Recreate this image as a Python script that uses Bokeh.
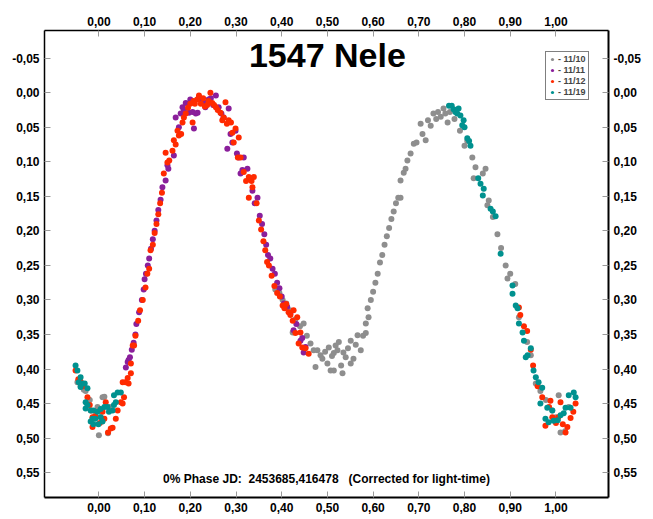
from bokeh.plotting import figure
from bokeh.models import (Range1d, LinearAxis, FixedTicker, CustomJSTickFormatter,
                          Label, Legend, LegendItem)
from bokeh.embed import file_html
from bokeh.resources import INLINE

# ---------------- data (phase, relative magnitude) ----------------
phase_1110 = [-0.047, -0.040, -0.033, -0.029, -0.020, -0.003, 0.000, 0.004, 0.008, 0.012, 0.020, 0.024,
              0.386, 0.395, 0.402, 0.410, 0.418, 0.424, 0.430, 0.440, 0.448, 0.455, 0.463, 0.470, 0.474,
              0.478, 0.485, 0.489, 0.495, 0.500, 0.503, 0.507, 0.510, 0.514, 0.514, 0.518, 0.522, 0.525,
              0.530, 0.533, 0.535, 0.540, 0.545, 0.551, 0.551, 0.557, 0.562, 0.566, 0.573, 0.578, 0.584,
              0.584, 0.588, 0.590, 0.595, 0.600, 0.605, 0.610, 0.615, 0.620, 0.625, 0.630, 0.635, 0.640,
              0.645, 0.650, 0.655, 0.660, 0.660, 0.667, 0.671, 0.675, 0.682, 0.689, 0.695, 0.704, 0.708,
              0.715, 0.720, 0.726, 0.732, 0.738, 0.742, 0.748, 0.754, 0.758, 0.763, 0.768, 0.778, 0.790,
              0.800, 0.806, 0.817, 0.820, 0.824, 0.840, 0.846, 0.850, 0.853, 0.862, 0.872, 0.880, 0.890,
              0.894, 0.900, 0.911, 0.919, 0.937, 0.945, 0.956, 0.966, 0.978, 0.992, 1.000, 1.006, 1.010,
              1.020, 1.028]
mag_1110 = [0.419, 0.425, 0.430, 0.432, 0.445, 0.455, 0.496, 0.470, 0.441, 0.440, 0.493, 0.455,
            0.285, 0.290, 0.300, 0.305, 0.315, 0.347, 0.328, 0.338, 0.334, 0.352, 0.363, 0.373, 0.397,
            0.373, 0.380, 0.385, 0.375, 0.392, 0.369, 0.402, 0.381, 0.377, 0.402, 0.366, 0.373, 0.361,
            0.395, 0.406, 0.376, 0.383, 0.370, 0.359, 0.392, 0.385, 0.365, 0.351, 0.373, 0.352, 0.334,
            0.348, 0.312, 0.325, 0.300, 0.288, 0.275, 0.262, 0.246, 0.235, 0.220, 0.208, 0.196, 0.183,
            0.172, 0.160, 0.152, 0.152, 0.127, 0.116, 0.110, 0.098, 0.088, 0.074, 0.072, 0.045, 0.060,
            0.069, 0.040, 0.048, 0.030, 0.038, 0.028, 0.035, 0.023, 0.030, 0.043, 0.028, 0.038, 0.055,
            0.077, 0.070, 0.094, 0.124, 0.108, 0.117, 0.110, 0.163, 0.156, 0.180, 0.205, 0.225, 0.250,
            0.269, 0.262, 0.277, 0.325, 0.361, 0.380, 0.421, 0.432, 0.445, 0.460, 0.470, 0.438, 0.492,
            0.490, 0.455]

phase_1111 = [0.059, 0.063, 0.065, 0.068, 0.072, 0.076, 0.080, 0.082, 0.088, 0.094, 0.098, 0.100,
              0.103, 0.107, 0.110, 0.114, 0.118, 0.122, 0.126, 0.130, 0.135, 0.139, 0.146, 0.150, 0.152,
              0.164, 0.168, 0.175, 0.179, 0.183, 0.186, 0.190, 0.197, 0.200, 0.205, 0.208, 0.212, 0.216,
              0.219, 0.225, 0.230, 0.233, 0.240, 0.245, 0.250, 0.256, 0.262, 0.268, 0.273, 0.281, 0.284,
              0.288, 0.292, 0.299, 0.302, 0.306, 0.310, 0.314, 0.317, 0.325, 0.332, 0.336, 0.341, 0.347,
              0.352, 0.357, 0.362, 0.366, 0.370, 0.375, 0.380, 0.385, 0.390, 0.395, 0.400, 0.405, 0.412,
              0.419, 0.426, 0.432, 0.441, 0.445, 0.448, 0.452]
mag_1111 = [0.398, 0.390, 0.387, 0.383, 0.372, 0.362, 0.350, 0.335, 0.318, 0.300, 0.285, 0.270,
            0.262, 0.250, 0.240, 0.226, 0.212, 0.200, 0.185, 0.170, 0.155, 0.137, 0.127, 0.105, 0.110,
            0.091, 0.036, 0.050, 0.030, 0.021, 0.026, 0.015, 0.029, 0.010, 0.028, 0.052, 0.030, 0.029,
            0.007, 0.012, 0.014, 0.021, 0.010, 0.008, 0.018, 0.004, 0.021, 0.030, 0.036, 0.081, 0.023,
            0.060, 0.072, 0.055, 0.088, 0.094, 0.117, 0.112, 0.094, 0.110, 0.124, 0.142, 0.160, 0.152,
            0.178, 0.190, 0.205, 0.220, 0.235, 0.240, 0.255, 0.262, 0.275, 0.283, 0.295, 0.305, 0.310,
            0.320, 0.344, 0.335, 0.359, 0.355, 0.376, 0.368]

phase_1112 = [-0.051, -0.045, -0.040, -0.035, -0.025, -0.020, -0.017, -0.014, -0.014, -0.008, 0.002,
              0.008, 0.012, 0.015, 0.020, 0.026, 0.030, 0.037, 0.041, 0.048, 0.052, 0.055, 0.052, 0.058,
              0.065, 0.063, 0.070, 0.070, 0.074, 0.077, 0.080, 0.086, 0.090, 0.096, 0.102, 0.106, 0.110,
              0.113, 0.118, 0.122, 0.126, 0.130, 0.134, 0.138, 0.142, 0.146, 0.150, 0.154, 0.161, 0.164,
              0.168, 0.172, 0.175, 0.180, 0.183, 0.186, 0.190, 0.195, 0.200, 0.205, 0.207, 0.210, 0.215,
              0.219, 0.223, 0.228, 0.232, 0.237, 0.240, 0.244, 0.248, 0.252, 0.256, 0.260, 0.266, 0.270,
              0.273, 0.277, 0.280, 0.284, 0.289, 0.292, 0.295, 0.299, 0.304, 0.306, 0.310, 0.317, 0.322,
              0.328, 0.328, 0.334, 0.336, 0.339, 0.345, 0.350, 0.355, 0.360, 0.364, 0.368, 0.372, 0.378,
              0.384, 0.390, 0.396, 0.402, 0.406, 0.410, 0.415, 0.419, 0.424, 0.426, 0.430, 0.434, 0.437,
              0.441, 0.445, 0.452, 0.459,
              0.919, 0.922, 0.930, 0.937, 0.945, 0.950, 0.960, 0.970, 0.977, 0.985, 0.988, 0.992, 1.000,
              1.005, 1.010, 1.015, 1.021, 1.025, 1.032, 1.038, 1.043]
mag_1112 = [0.402, 0.415, 0.418, 0.425, 0.441, 0.452, 0.460, 0.484, 0.470, 0.468, 0.478,
            0.462, 0.472, 0.448, 0.492, 0.486, 0.485, 0.472, 0.460, 0.448, 0.450, 0.441, 0.419, 0.419,
            0.421, 0.413, 0.406, 0.392, 0.366, 0.366, 0.352, 0.330, 0.315, 0.300, 0.282, 0.262, 0.255,
            0.228, 0.220, 0.203, 0.190, 0.176, 0.160, 0.145, 0.117, 0.087, 0.101, 0.098, 0.084, 0.069,
            0.075, 0.055, 0.062, 0.060, 0.043, 0.036, 0.030, 0.022, 0.016, 0.043, 0.012, 0.016, 0.010,
            0.004, 0.016, 0.008, 0.020, 0.018, 0.012, 0.000, 0.015, 0.018, 0.021, 0.025, 0.029, 0.040,
            0.036, 0.014, 0.045, 0.040, 0.043, 0.058, 0.072, 0.052, 0.094, 0.065, 0.094, 0.115, 0.128,
            0.122, 0.152, 0.128, 0.137, 0.122, 0.160, 0.185, 0.198, 0.215, 0.228, 0.245, 0.250, 0.265,
            0.280, 0.290, 0.295, 0.308, 0.312, 0.306, 0.318, 0.322, 0.330, 0.315, 0.348, 0.325, 0.363,
            0.347, 0.369, 0.370, 0.378,
            0.311, 0.322, 0.338, 0.345, 0.372, 0.395, 0.425, 0.441, 0.482, 0.455, 0.446, 0.470, 0.478,
            0.470, 0.448, 0.480, 0.492, 0.484, 0.471, 0.462, 0.450]

phase_1119 = [-0.051, -0.047, -0.044, -0.040, -0.040, -0.036, -0.031, -0.029, -0.029, -0.025, -0.025,
              -0.018, -0.012, -0.014, -0.018, -0.012, -0.008, -0.003, 0.004, 0.008, -0.001, 0.004, 0.012,
              0.019, 0.022, 0.030, 0.033, 0.037, 0.033, 0.041, 0.048,
              0.766, 0.772, 0.776, 0.780, 0.784, 0.787, 0.791, 0.795, 0.798, 0.800, 0.806, 0.810, 0.813,
              0.830, 0.835, 0.842, 0.840, 0.857, 0.862, 0.868, 0.879, 0.905, 0.905, 0.912, 0.916, 0.919,
              0.927, 0.930, 0.934, 0.938, 0.945, 0.951, 0.956, 0.962, 0.970, 0.966, 0.977, 0.981, 0.984,
              0.992, 0.995, 1.004, 1.010, 1.017, 1.021, 1.028, 1.032, 1.039, 1.043]
mag_1119 = [0.395, 0.402, 0.419, 0.412, 0.426, 0.421, 0.421, 0.448, 0.457, 0.428, 0.452,
            0.460, 0.460, 0.472, 0.476, 0.480, 0.472, 0.462, 0.470, 0.476, 0.480, 0.458, 0.455,
            0.455, 0.462, 0.460, 0.452, 0.448, 0.438, 0.434, 0.434,
            0.019, 0.019, 0.024, 0.028, 0.030, 0.023, 0.033, 0.047, 0.040, 0.050, 0.066, 0.070, 0.077,
            0.124, 0.132, 0.139, 0.149, 0.168, 0.172, 0.179, 0.233, 0.279, 0.291, 0.308, 0.312, 0.334,
            0.347, 0.359, 0.383, 0.380, 0.370, 0.402, 0.412, 0.419, 0.427, 0.450, 0.472, 0.456, 0.477,
            0.460, 0.475, 0.474, 0.467, 0.464, 0.456, 0.438, 0.456, 0.434, 0.441]

session_labels = ["- 11/10", "- 11/11", "- 11/12", "- 11/19"]
x_ticks = [0.0, 0.1, 0.2, 0.3, 0.4, 0.5, 0.6, 0.7, 0.8, 0.9, 1.0]
y_ticks = [-0.05, 0.0, 0.05, 0.10, 0.15, 0.20, 0.25, 0.30, 0.35, 0.40, 0.45, 0.50, 0.55]
title_text = "1547 Nele"
footer_text = "0% Phase JD:\u00a0\u00a02453685,416478\u00a0\u00a0\u00a0(Corrected for light-time)"

colors = ["#8e8e8e", "#8a1f9b", "#ff2a00", "#00918f"]

# ---------------- figure ----------------
p = figure(width=653, height=519, output_backend="svg", toolbar_location=None,
           x_range=Range1d(-0.119, 1.115), y_range=Range1d(0.586, -0.09),
           min_border_left=44, min_border_right=45, min_border_top=30, min_border_bottom=22)
p.xgrid.visible = False
p.ygrid.visible = False
p.outline_line_color = None
p.background_fill_color = "white"
p.border_fill_color = "white"

fmt_code = "var v = Math.abs(tick) < 1e-9 ? 0 : tick; return v.toFixed(2).replace('.', ',');"

p.add_layout(LinearAxis(), "above")
p.add_layout(LinearAxis(), "right")

for ax in p.xaxis:
    ax.ticker = FixedTicker(ticks=x_ticks)
for ax in p.yaxis:
    ax.ticker = FixedTicker(ticks=y_ticks)

for ax in list(p.xaxis) + list(p.yaxis):
    ax.formatter = CustomJSTickFormatter(code=fmt_code)
    ax.major_tick_in = 6
    ax.major_tick_out = 0
    ax.minor_tick_line_color = None
    ax.major_tick_line_color = "#9a9a9a"
    ax.major_tick_line_width = 1
    ax.axis_line_color = "black"
    ax.axis_line_width = 1.5
    ax.major_label_text_font = "Liberation Sans"
    ax.major_label_text_font_style = "bold"
    ax.major_label_text_font_size = "12px"
    ax.major_label_text_color = "black"
    ax.major_label_standoff = 5

p.below[0].axis_line_width = 2
p.right[0].axis_line_width = 2

renderers = []
for ph, mg, c in [(phase_1110, mag_1110, colors[0]), (phase_1111, mag_1111, colors[1]),
                  (phase_1112, mag_1112, colors[2]), (phase_1119, mag_1119, colors[3])]:
    r = p.scatter(ph, mg, size=6, fill_color=c, line_color=None, marker="circle")
    renderers.append(r)

legend = Legend(items=[LegendItem(label=lab, renderers=[r]) for lab, r in zip(session_labels, renderers)],
                location=(501, 397), orientation="vertical",
                label_text_font="Liberation Sans", label_text_font_style="bold",
                label_text_font_size="9px", label_height=10, label_standoff=2,
                glyph_width=8, glyph_height=8, spacing=1, padding=2, margin=0,
                border_line_color="black", border_line_width=1,
                background_fill_color="white", background_fill_alpha=1.0)
p.add_layout(legend)

p.add_layout(Label(x=0.5, y=-0.054, text=title_text, text_align="center", text_baseline="middle",
                   text_font="Liberation Sans", text_font_style="bold", text_font_size="34px",
                   text_color="black"))
p.add_layout(Label(x=0.498, y=0.5597, text=footer_text, text_align="center", text_baseline="middle",
                   text_font="Liberation Sans", text_font_style="bold", text_font_size="12px",
                   text_color="black"))

open("out.html", "w").write(file_html(p, INLINE))
